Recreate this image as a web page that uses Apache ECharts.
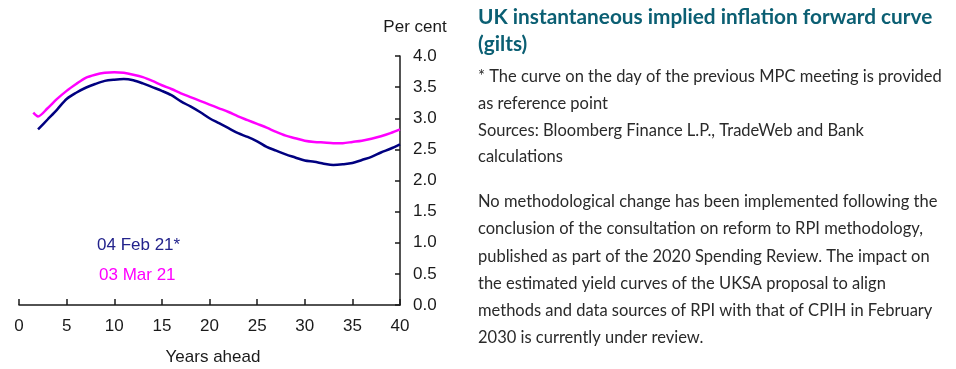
<!DOCTYPE html>
<html>
<head>
<meta charset="utf-8">
<script src="https://cdn.jsdelivr.net/npm/echarts@6/dist/echarts.min.js"></script>
<style>
html,body{margin:0;padding:0;background:#fff;}
#c{width:956px;height:369px;}
</style>
</head>
<body>
<div id="c"></div>
<script>
var years = [1.5,2,3,4,5,6,7,8,9,10,11,12,13,14,15,16,17,18,19,20,21,22,23,24,25,26,27,28,29,30,31,32,33,34,35,36,37,38,39,40];
var feb21 = [null,2.82,2.98,3.14,3.31,3.41,3.49,3.55,3.60,3.62,3.63,3.61,3.56,3.50,3.44,3.37,3.27,3.19,3.10,3.00,2.92,2.84,2.76,2.70,2.63,2.54,2.48,2.42,2.37,2.32,2.30,2.27,2.25,2.26,2.28,2.33,2.38,2.45,2.51,2.58];
var mar21 = [3.09,3.03,3.16,3.31,3.44,3.55,3.65,3.70,3.73,3.74,3.73,3.70,3.66,3.60,3.53,3.47,3.40,3.34,3.28,3.22,3.16,3.10,3.03,2.97,2.91,2.85,2.78,2.72,2.68,2.64,2.62,2.61,2.60,2.60,2.62,2.64,2.67,2.71,2.76,2.82];
var seriesNames = ['04 Feb 21*','03 Mar 21'];
var xTicks = [0,5,10,15,20,25,30,35,40];
var yTicks = [0,0.5,1,1.5,2,2.5,3,3.5,4];
var titleLines = ['UK instantaneous implied inflation forward curve','(gilts)'];
var noteLines = ['* The curve on the day of the previous MPC meeting is provided','as reference point','Sources: Bloomberg Finance L.P., TradeWeb and Bank','calculations'];
var paraLines = ['No methodological change has been implemented following the','conclusion of the consultation on reform to RPI methodology,','published as part of the 2020 Spending Review. The impact on','the estimated yield curves of the UKSA proposal to align','methods and data sources of RPI with that of CPIH in February','2030 is currently under review.'];

function pairs(v){ return years.map(function(y,i){ return v[i]==null?null:[y,v[i]]; }).filter(function(p){return p;}); }

var axisFont = '"Liberation Sans", Arial, sans-serif';
var textFont = 'Lato, "Open Sans", sans-serif';
var graphics = [
  {type:'text', x:415, y:27, style:{text:'Per cent', font:'17px '+axisFont, fill:'#1a1a1a', align:'center', verticalAlign:'middle'}},
  {type:'text', x:213, y:357, style:{text:'Years ahead', font:'17px '+axisFont, fill:'#1a1a1a', align:'center', verticalAlign:'middle'}},
  {type:'text', x:97, y:245, style:{text:seriesNames[0], font:'17px '+axisFont, fill:'#23238c', align:'left', verticalAlign:'middle'}},
  {type:'text', x:99, y:275, style:{text:seriesNames[1], font:'17px '+axisFont, fill:'#ff00ff', align:'left', verticalAlign:'middle'}}
];
var titleY = [17, 44];
titleLines.forEach(function(t,i){
  graphics.push({type:'text', x:478, y:titleY[i], style:{text:t, font:'bold 20.8px '+textFont, fill:'#0b5f73', align:'left', verticalAlign:'middle'}});
});
noteLines.forEach(function(t,i){
  graphics.push({type:'text', x:478, y:77+i*26.7, style:{text:t, font:'16.5px '+textFont, fill:'#2a2a2a', align:'left', verticalAlign:'middle'}});
});
paraLines.forEach(function(t,i){
  graphics.push({type:'text', x:478, y:202+i*27.1, style:{text:t, font:'16.5px '+textFont, fill:'#2a2a2a', align:'left', verticalAlign:'middle'}});
});

var chart = echarts.init(document.getElementById('c'), null, {renderer:'canvas'});
chart.setOption({
  animation:false,
  backgroundColor:'#fff',
  grid:{left:19, right:556, top:56, bottom:64, containLabel:false},
  xAxis:{type:'value', min:xTicks[0], max:xTicks[xTicks.length-1], interval:5,
    axisLine:{show:true, onZero:false, lineStyle:{color:'#1a1a1a', width:1.5}},
    axisTick:{show:true, inside:true, length:6, lineStyle:{color:'#1a1a1a', width:1.5}},
    axisLabel:{color:'#1a1a1a', fontSize:17, fontFamily:axisFont, margin:13},
    splitLine:{show:false}},
  yAxis:{type:'value', position:'right', min:yTicks[0], max:yTicks[yTicks.length-1], interval:0.5,
    axisLine:{show:true, onZero:false, lineStyle:{color:'#1a1a1a', width:1.5}},
    axisTick:{show:true, inside:true, length:5, lineStyle:{color:'#1a1a1a', width:1.5}},
    axisLabel:{color:'#1a1a1a', fontSize:17, fontFamily:axisFont, margin:13, formatter:function(v){return v.toFixed(1);}},
    splitLine:{show:false}},
  series:[
    {name:seriesNames[0], type:'line', data:pairs(feb21), smooth:0.3, showSymbol:false, lineStyle:{color:'#000080', width:2.5}, z:3},
    {name:seriesNames[1], type:'line', data:pairs(mar21), smooth:0.3, showSymbol:false, lineStyle:{color:'#ff00ff', width:2.5}, z:2}
  ],
  graphic:graphics
});
</script>
</body>
</html>
